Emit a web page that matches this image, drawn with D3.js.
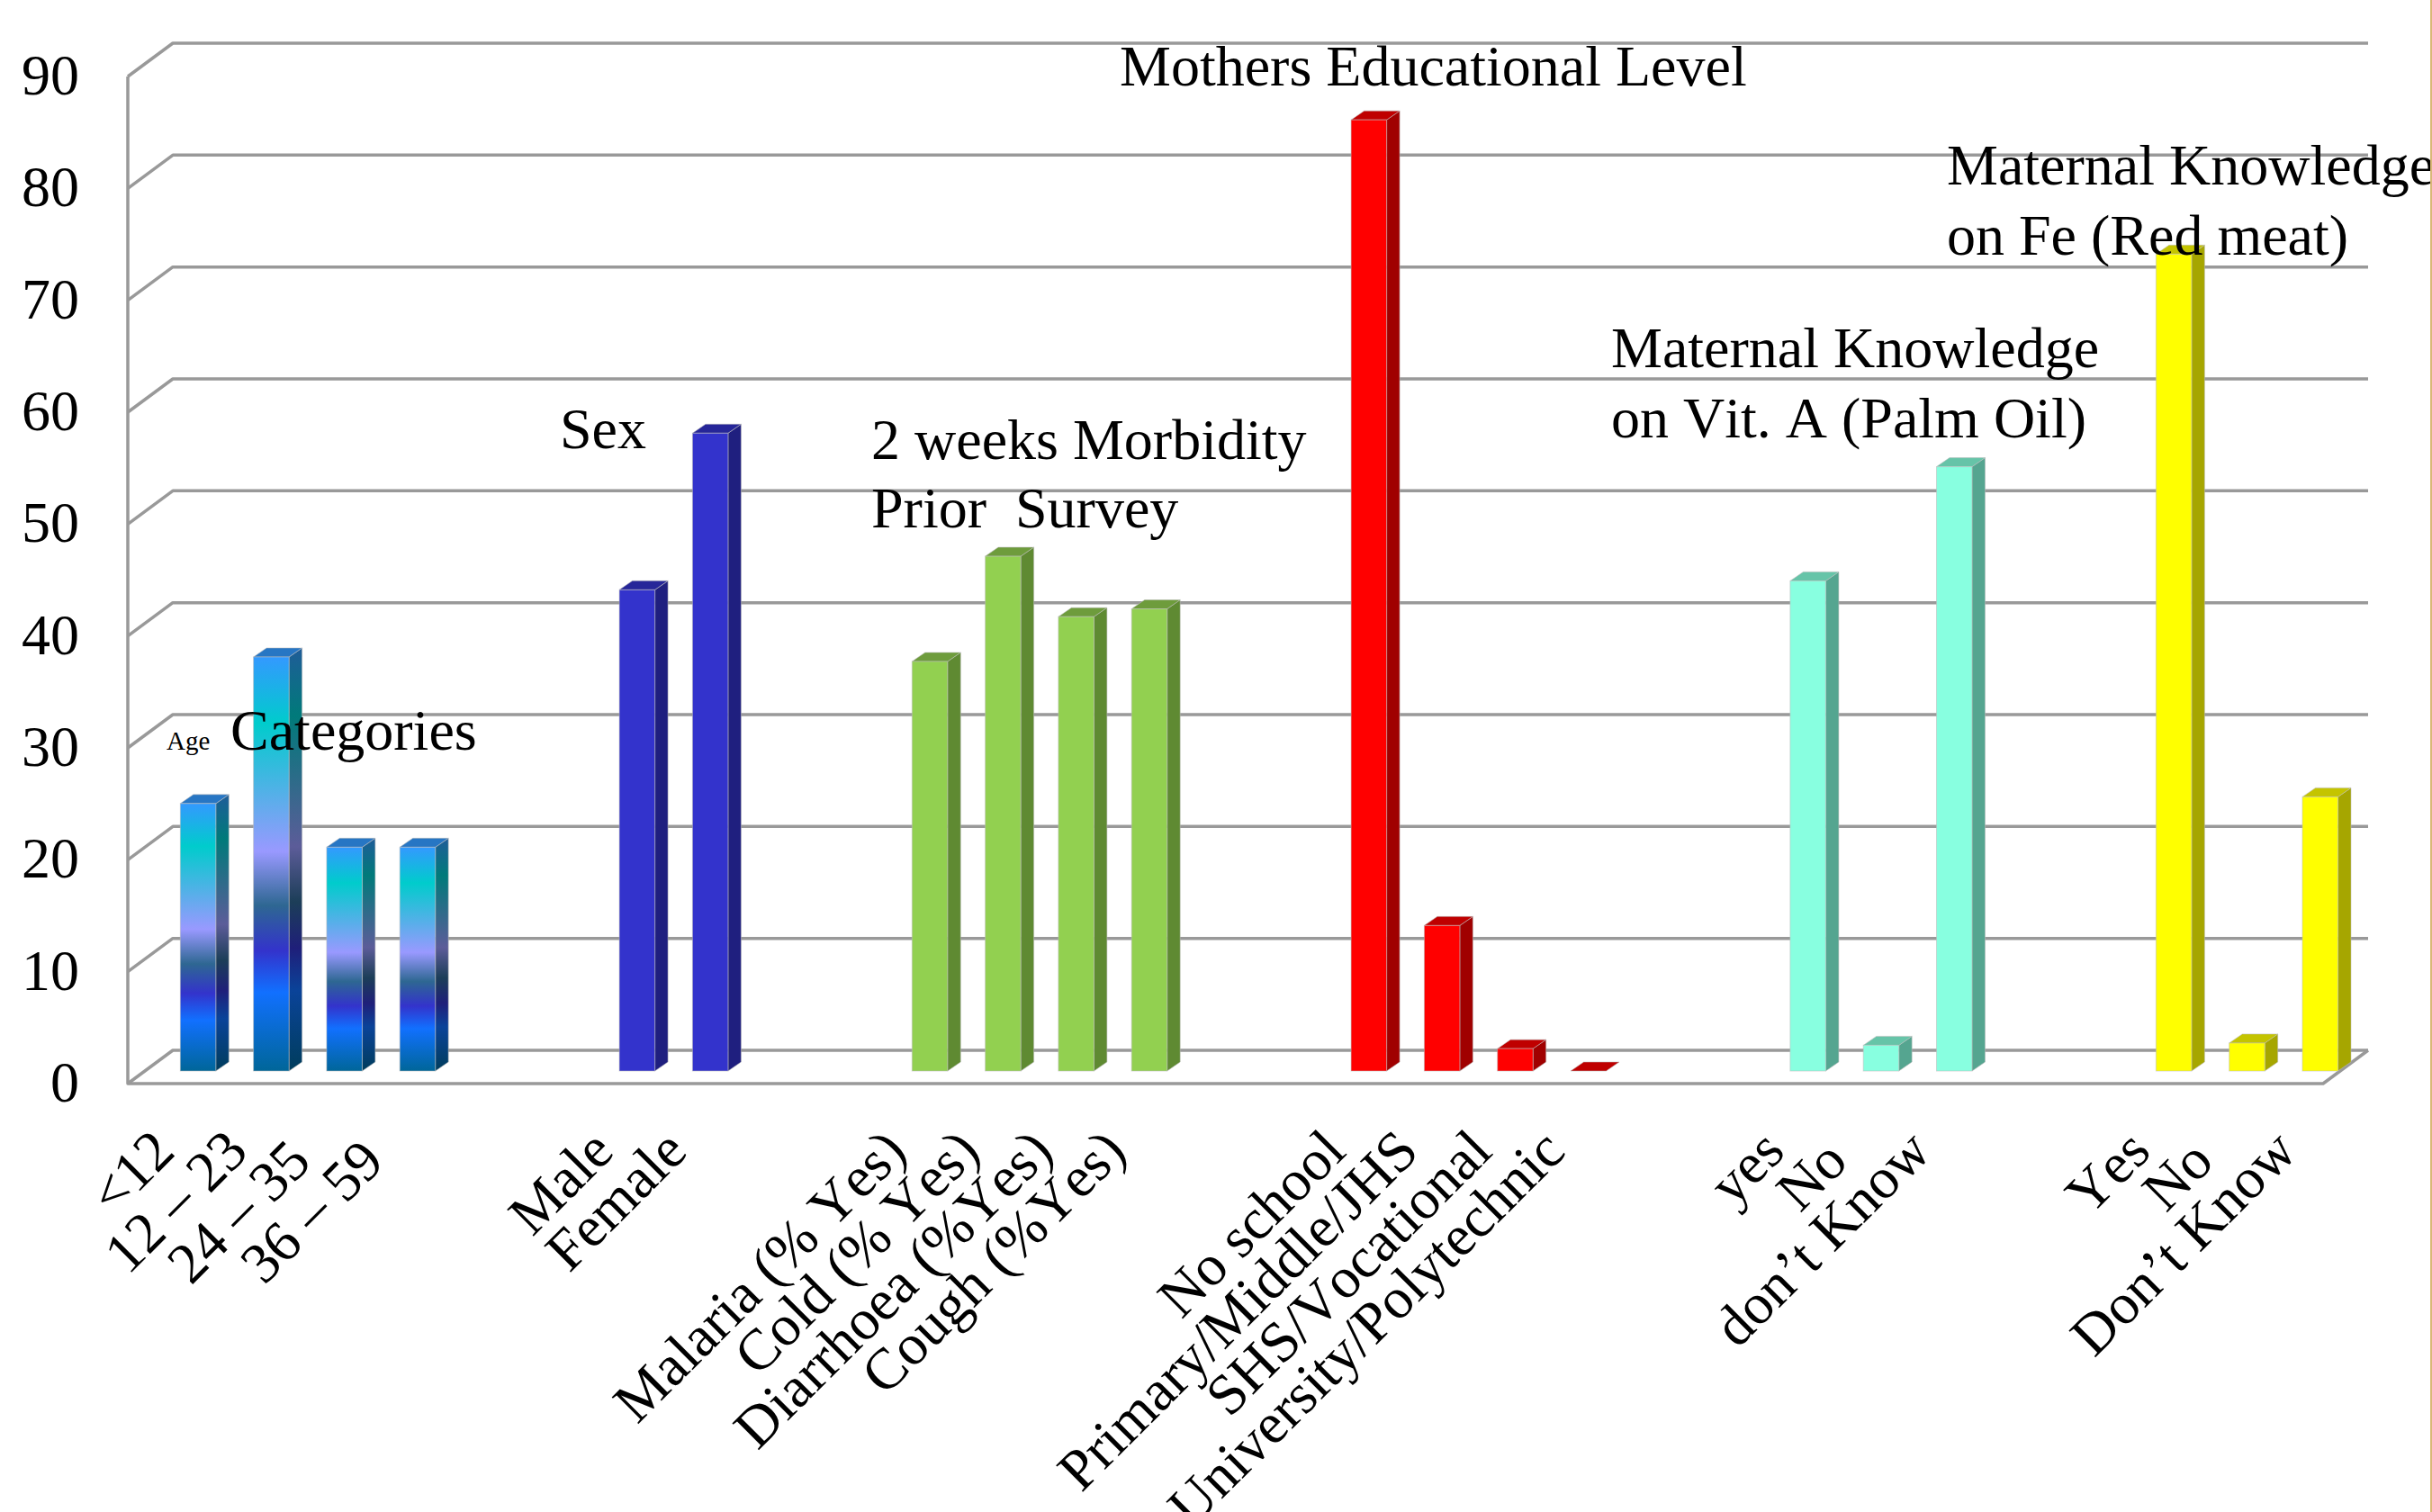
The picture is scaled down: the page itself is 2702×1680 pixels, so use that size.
<!DOCTYPE html>
<html>
<head>
<meta charset="utf-8">
<style>
  html, body { margin: 0; padding: 0; background: #fff; overflow: hidden; }
  svg { display: block; }
  text { font-family: "Liberation Serif", serif; fill: #000; white-space: pre; font-kerning: none; }
</style>
<script src="https://cdn.jsdelivr.net/npm/d3@7/dist/d3.min.js"></script>
</head>
<body>
<svg id="chart" width="2702" height="1680"></svg>
<script>
// Survey percentages, one pair of arrays per characteristic.
const ageLabels = ["<12", "12 – 23", "24 – 35 ", "36 – 59 "];
const ageValues = [23.9, 37, 20, 20];
const sexLabels = ["Male", "Female"];
const sexValues = [43, 57];
const morbidityLabels = ["Malaria (% Yes)", "Cold (% Yes)", "Diarrhoea (%Yes)", "Cough (%Yes)"];
const morbidityValues = [36.6, 46, 40.6, 41.3];
const educationLabels = ["No school", "Primary/Middle/JHS", "SHS/Vocational", "University/Polytechnic"];
const educationValues = [85, 13, 2, 0];
const vitALabels = ["yes", "No ", "don’t Know"];
const vitAValues = [43.8, 2.3, 54];
const ironLabels = ["Yes", "No ", "Don’t Know"];
const ironValues = [73, 2.5, 24.5];
const yTicks = [0, 10, 20, 30, 40, 50, 60, 70, 80, 90];

const groupStyles = [
  { id: "age",  labels: ageLabels,       values: ageValues,       front: "url(#peacock)",     side: "url(#peacockSide)", top: "#2776c4" },
  { id: "sex",  labels: sexLabels,       values: sexValues,       front: "#3333cc", side: "#1f1f7f", top: "#262699" },
  { id: "morb", labels: morbidityLabels, values: morbidityValues, front: "#92d050", side: "#5f8a32", top: "#6e9c3c" },
  { id: "edu",  labels: educationLabels, values: educationValues, front: "#ff0000", side: "#a00000", top: "#bf0000" },
  { id: "vita", labels: vitALabels,      values: vitAValues,      front: "#88ffe0", side: "#55a590", top: "#66c4a8" },
  { id: "iron", labels: ironLabels,      values: ironValues,      front: "#ffff00", side: "#a6a600", top: "#c4c400" }
];

// Layout of the pseudo-3D plot box.
const floorLeft = 142, floorRight = 2581, floorY = 1204, topY = 85;
const depthX = 50, depthY = 37;
const barDepthX = 14.5, barDepthY = 10, barLift = 14, barWidth = 39.5, barInset = 58.3;
const labelFont = 64;

// Slots along the category axis: each group is followed by two blank slots.
const slots = [], slotLabels = new Map();
groupStyles.forEach((g, gi) => {
  g.labels.forEach((l, i) => {
    const key = g.id + i;
    slots.push(key);
    slotLabels.set(key, l);
  });
  if (gi < groupStyles.length - 1) {
    slots.push(g.id + "-gap0", g.id + "-gap1");
    slotLabels.set(g.id + "-gap0", "");
    slotLabels.set(g.id + "-gap1", "");
  }
});

const x = d3.scaleBand().domain(slots).range([floorLeft, floorRight]);
const y = d3.scaleLinear().domain([0, 90]).range([floorY, topY]);

const svg = d3.select("#chart");

// Peacock gradient used by the age bars.
const peacock = [
  [0, "#3399ff"], [0.16, "#00cccc"], [0.47, "#9999ff"], [0.6, "#2e6792"],
  [0.71, "#3333cc"], [0.81, "#1170ff"], [1, "#006699"]
];
const defs = svg.append("defs");
[["peacock", 1], ["peacockSide", 0.6]].forEach(([id, k]) => {
  defs.append("linearGradient").attr("id", id)
    .attr("x1", 0).attr("y1", 0).attr("x2", 0).attr("y2", 1)
    .selectAll("stop").data(peacock).join("stop")
    .attr("offset", d => d[0])
    .attr("stop-color", d => {
      const c = d3.rgb(d[1]);
      return d3.rgb(c.r * k, c.g * k, c.b * k).formatHex();
    });
});

// Walls: gridlines run along the left wall and across the back.
const grid = svg.append("g").attr("fill", "none").attr("stroke", "#999").attr("stroke-width", 3.5).attr("stroke-linejoin", "round");
grid.selectAll("path.g").data(yTicks).join("path").attr("class", "g")
  .attr("d", d => `M${floorLeft},${y(d)}L${floorLeft + depthX},${y(d) - depthY}H${floorRight + depthX}`);
grid.append("path")
  .attr("d", `M${floorLeft},${topY}V${floorY}H${floorRight}L${floorRight + depthX},${floorY - depthY}`);

// Bars as three faces: side, top, front.
const bars = svg.append("g");
groupStyles.forEach(g => {
  g.values.forEach((v, i) => {
    const x0 = x(g.id + i) + barInset, x1 = x0 + barWidth;
    const b = y(0) - barLift, t = y(v) - barLift;
    const bar = bars.append("g").attr("stroke", "#bbb").attr("stroke-opacity", 0.55).attr("stroke-width", 1);
    if (v > 0) {
      bar.append("path").attr("fill", g.side)
        .attr("d", `M${x1},${b}L${x1 + barDepthX},${b - barDepthY}V${t - barDepthY}L${x1},${t}Z`);
    }
    bar.append("path").attr("fill", g.top)
      .attr("d", `M${x0},${t}L${x0 + barDepthX},${t - barDepthY}H${x1 + barDepthX}L${x1},${t}Z`);
    if (v > 0) {
      bar.append("rect").attr("fill", g.front)
        .attr("x", x0).attr("y", t).attr("width", barWidth).attr("height", b - t);
    }
  });
});

// Value axis.
const yAxis = svg.append("g").attr("transform", `translate(88,-1)`)
  .call(d3.axisLeft(y).tickValues(yTicks).tickSize(0).tickPadding(0));
yAxis.select(".domain").remove();
yAxis.selectAll("text").style("font-family", '"Liberation Serif", serif').style("font-size", labelFont + "px").attr("fill", "#000");

// Category axis with slanted labels ending under each slot.
const xAxis = svg.append("g").attr("transform", `translate(0,${floorY})`)
  .call(d3.axisBottom(x).tickSize(0).tickFormat(k => slotLabels.get(k)));
xAxis.select(".domain").remove();
xAxis.selectAll("text")
  .style("font-family", '"Liberation Serif", serif').style("font-size", labelFont + "px").attr("fill", "#000")
  .attr("text-anchor", "end")
  .attr("x", 0).attr("y", 0).attr("dy", 0)
  .attr("transform", "translate(14,78) rotate(-45)");

// Free-standing captions over the groups.
const captionText = [
  ["Age", 29], ["Categories", labelFont], ["Sex", labelFont],
  ["2 weeks Morbidity", labelFont], ["Prior  Survey", labelFont],
  ["Mothers Educational Level", labelFont],
  ["Maternal Knowledge", labelFont], ["on Vit. A (Palm Oil)", labelFont],
  ["Maternal Knowledge", labelFont], ["on Fe (Red meat)", labelFont]
];
const captionAnchors = [
  [185, 833], [256, 833], [622, 498], [968, 510], [968, 586],
  [1244, 95], [1790, 408], [1790, 486], [2163, 205], [2163, 283]
];
svg.append("g").selectAll("text").data(captionText).join("text")
  .attr("x", (d, i) => captionAnchors[i][0])
  .attr("y", (d, i) => captionAnchors[i][1])
  .attr("font-size", d => d[1])
  .text(d => d[0]);

// Thin tan edge along the right of the page.
svg.append("rect").attr("x", 2700).attr("y", 0).attr("width", 2).attr("height", 1680).attr("fill", "#d9b877");
</script>
</body>
</html>
